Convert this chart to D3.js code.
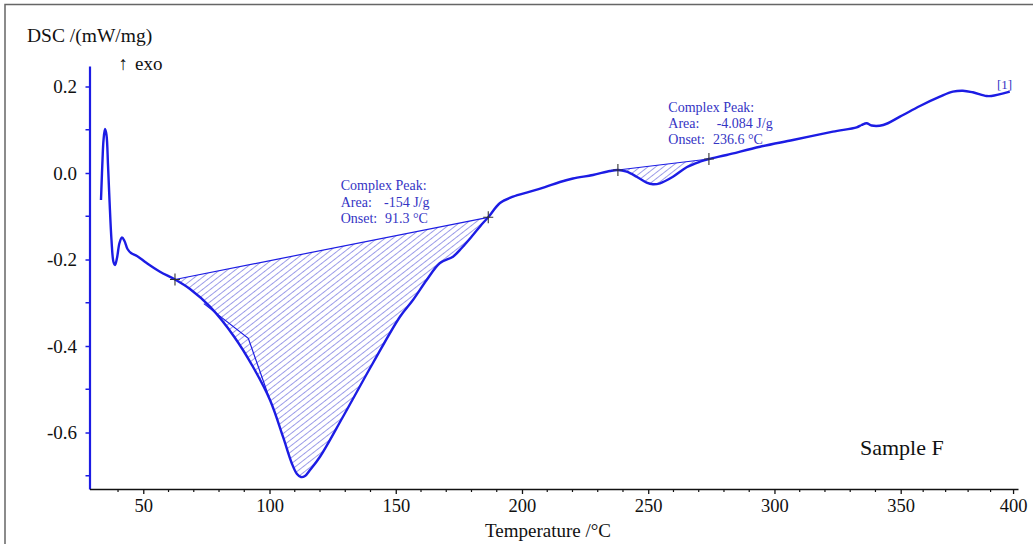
<!DOCTYPE html>
<html>
<head>
<meta charset="utf-8">
<script src="https://cdn.jsdelivr.net/npm/d3@7"></script>
<style>
  html, body { margin: 0; padding: 0; background: #fff; }
  svg { display: block; }
  text { font-family: "Liberation Serif", "Times New Roman", serif; }
</style>
</head>
<body>
<svg id="chart" width="1033" height="544"></svg>
<script>
// ---------- data ----------
const temperature = [33.25,33.4,33.85,34.25,34.84,35.43,36.03,36.62,37.41,38.2,38.8,39.59,40.58,41.57,42.56,43.75,45.14,47.51,51.35,56.62,62.56,68.5,76.42,86.0,93.43,100.19,105.33,108.78,110.88,112.46,114.05,116.03,119.99,129.1,140.98,151.67,156.82,162.25,167.51,172.66,176.11,180.58,184.54,186.64,191.28,196.43,203.16,209.1,215.04,220.19,228.11,234.84,237.99,241.44,245.4,249.36,251.87,254.64,259.79,265.21,270.48,274.04,281.06,294.25,307.32,323.16,332.55,334.53,336.51,338.48,343.08,349.7,358.57,367.45,373.22,377.66,382.1,388.18,390.4,398.53];
const dsc = [-0.0624,-0.039,0.030,0.076,0.1017,0.0879,0.0185,-0.0624,-0.1549,-0.2058,-0.2127,-0.1965,-0.1618,-0.1491,-0.1572,-0.1757,-0.185,-0.1919,-0.2081,-0.2282,-0.2462,-0.2682,-0.3091,-0.3785,-0.4479,-0.5249,-0.6097,-0.6705,-0.696,-0.7029,-0.7006,-0.6867,-0.656,-0.5635,-0.4393,-0.3323,-0.2936,-0.2474,-0.2081,-0.1935,-0.1734,-0.1434,-0.1156,-0.1024,-0.0694,-0.0548,-0.0432,-0.0324,-0.0208,-0.0127,-0.0046,0.0046,0.0069,0.003,-0.0086,-0.0224,-0.0261,-0.0238,-0.0086,0.0132,0.0261,0.0324,0.0416,0.0608,0.0763,0.0955,0.1057,0.111,0.1149,0.1098,0.111,0.1302,0.1549,0.1764,0.188,0.1903,0.1866,0.178,0.178,0.188];

// peak integration limits (temperatures of the "+" markers)
const peakStart = [62.56, 237.99];
const peakEnd   = [186.64, 274.04];
// partition line inside the first complex peak
const partitionT = [74.0, 91.6, 100.19];
const partitionV = [-0.302, -0.3822, -0.5249];

const peakTitle = ["Complex Peak:", "Complex Peak:"];
const peakArea  = ["-154 J/g", "-4.084 J/g"];
const peakOnset = ["91.3 °C", "236.6 °C"];

const xTicks = [50, 100, 150, 200, 250, 300, 350, 400];
const xTickLabels = ["50", "100", "150", "200", "250", "300", "350", "400"];
const xMinorTicks = [40,60,70,80,90,110,120,130,140,160,170,180,190,210,220,230,240,260,270,280,290,310,320,330,340,360,370,380,390];
const yTicks = [0.2, 0.0, -0.2, -0.4, -0.6];
const yTickLabels = ["0.2", "0.0", "-0.2", "-0.4", "-0.6"];
const yMinorTicks = [0.1, -0.1, -0.3, -0.5, -0.7];

// ---------- drawing ----------
const svg = d3.select("#chart");
const BLUE = "#1c1ce4";
const TEXTBLUE = "#3434c4";

const x = d3.scaleLinear().domain([28.7, 350, 402.2]).range([89.5, 900.7, 1018]);
const y = d3.scaleLinear().domain([-0.7306, 0.2474]).range([489, 66]);

// outer frame
svg.append("rect").attr("x", 5).attr("y", 4.5).attr("width", 1040).attr("height", 560)
  .attr("fill", "none").attr("stroke", "#666").attr("stroke-width", 1.5);

// hatch pattern
const defs = svg.append("defs");
const pat = defs.append("pattern").attr("id", "hatch")
  .attr("patternUnits", "userSpaceOnUse").attr("width", 10).attr("height", 4.8)
  .attr("patternTransform", "rotate(-38)");
pat.append("line").attr("x1", 0).attr("x2", 10).attr("y1", 2.4).attr("y2", 2.4)
  .attr("stroke", "#9292e6").attr("stroke-width", 0.9);

const pts = temperature.map((t, i) => [t, dsc[i]]);
const line = d3.line().x(d => x(d[0])).y(d => y(d[1])).curve(d3.curveCatmullRom.alpha(0.5));
const straight = d3.line().x(d => x(d[0])).y(d => y(d[1]));

function nearest(t) {
  let best = 0;
  pts.forEach((p, i) => { if (Math.abs(p[0] - t) < Math.abs(pts[best][0] - t)) best = i; });
  return best;
}

peakStart.forEach((s, k) => {
  const i0 = nearest(s), i1 = nearest(peakEnd[k]);
  const seg = pts.slice(i0, i1 + 1);
  svg.append("path").attr("d", line(seg) + "Z")
    .attr("fill", "url(#hatch)").attr("stroke", "none");
  svg.append("path").attr("d", straight([pts[i0], pts[i1]]))
    .attr("fill", "none").attr("stroke", BLUE).attr("stroke-width", 1.2);
});

// partition line
svg.append("path").attr("d", straight(partitionT.map((t, i) => [t, partitionV[i]])))
  .attr("fill", "none").attr("stroke", BLUE).attr("stroke-width", 1.2);

// axes
const yAxis = d3.axisLeft(y).tickValues(yTicks).tickFormat((d, i) => yTickLabels[i])
  .tickSize(4).tickSizeOuter(0).tickPadding(8.5);
const gy = svg.append("g").attr("transform", `translate(${x(28.7)},0)`).call(yAxis);
gy.select(".domain").attr("stroke", BLUE).attr("stroke-width", 2.2);
gy.selectAll(".tick line").attr("stroke", BLUE).attr("stroke-width", 1.5);
gy.selectAll(".tick text").attr("fill", "#111").style("font-size", "19px")
  .style("font-family", "'Liberation Serif', serif");
gy.selectAll(".minor").data(yMinorTicks).enter().append("line")
  .attr("x1", -4).attr("x2", 0).attr("y1", d => y(d)).attr("y2", d => y(d))
  .attr("stroke", BLUE).attr("stroke-width", 1.5);

const xAxis = d3.axisBottom(x).tickValues(xTicks).tickFormat((d, i) => xTickLabels[i])
  .tickSize(5).tickSizeOuter(0).tickPadding(5);
const gx = svg.append("g").attr("transform", `translate(0,${y(-0.7306)})`).call(xAxis);
gx.select(".domain").attr("stroke", "#111").attr("stroke-width", 1.6);
gx.selectAll(".tick line").attr("stroke", "#111").attr("stroke-width", 1.3);
gx.selectAll(".tick text").attr("fill", "#111").style("font-size", "18.5px")
  .style("font-family", "'Liberation Serif', serif");
gx.selectAll(".minor").data(xMinorTicks).enter().append("line")
  .attr("x1", d => x(d)).attr("x2", d => x(d)).attr("y1", 0).attr("y2", 3)
  .attr("stroke", "#111").attr("stroke-width", 1.2);

// curve
svg.append("path").attr("d", line(pts)).attr("fill", "none")
  .attr("stroke", BLUE).attr("stroke-width", 2.4).attr("stroke-linejoin", "round");

// markers
const markT = [peakStart[0], peakEnd[0], peakStart[1], peakEnd[1]];
markT.forEach(t => {
  const p = pts[nearest(t)];
  const cx = x(p[0]), cy = y(p[1]);
  svg.append("path").attr("d", `M${cx - 5},${cy}H${cx + 5}M${cx},${cy - 6}V${cy + 6}`)
    .attr("stroke", "#333").attr("stroke-width", 1.1);
});

// annotations
const ann = [
  {x: 340.7, y: 190, vx1: 384, vx2: 385},
  {x: 668.3, y: 111.7, vx1: 716.7, vx2: 713}
];
ann.forEach((a, k) => {
  const g = svg.append("g").attr("fill", TEXTBLUE).style("font-size", "14px");
  g.append("text").attr("x", a.x).attr("y", a.y).text(peakTitle[k]);
  g.append("text").attr("x", a.x).attr("y", a.y + 16.5).text("Area:");
  g.append("text").attr("x", a.vx1).attr("y", a.y + 16.5).text(peakArea[k]);
  g.append("text").attr("x", a.x).attr("y", a.y + 32.7).text("Onset:");
  g.append("text").attr("x", a.vx2).attr("y", a.y + 32.7).text(peakOnset[k]);
});

// labels
svg.append("text").attr("x", 27).attr("y", 41.5).style("font-size", "19.5px").attr("fill", "#111")
  .text("DSC /(mW/mg)");
svg.append("text").attr("x", 118.5).attr("y", 70).style("font-size", "19px").attr("fill", "#111")
  .text("↑");
svg.append("text").attr("x", 135).attr("y", 70).style("font-size", "19px").attr("fill", "#111")
  .text("exo");
svg.append("text").attr("x", 548).attr("y", 537).attr("text-anchor", "middle")
  .style("font-size", "19px").attr("fill", "#111").text("Temperature /°C");
svg.append("text").attr("x", 860).attr("y", 455).style("font-size", "22px").attr("fill", "#111")
  .text("Sample F");
svg.append("text").attr("x", 997).attr("y", 89).style("font-size", "13px").attr("fill", TEXTBLUE)
  .text("[1]");
</script>
</body>
</html>
